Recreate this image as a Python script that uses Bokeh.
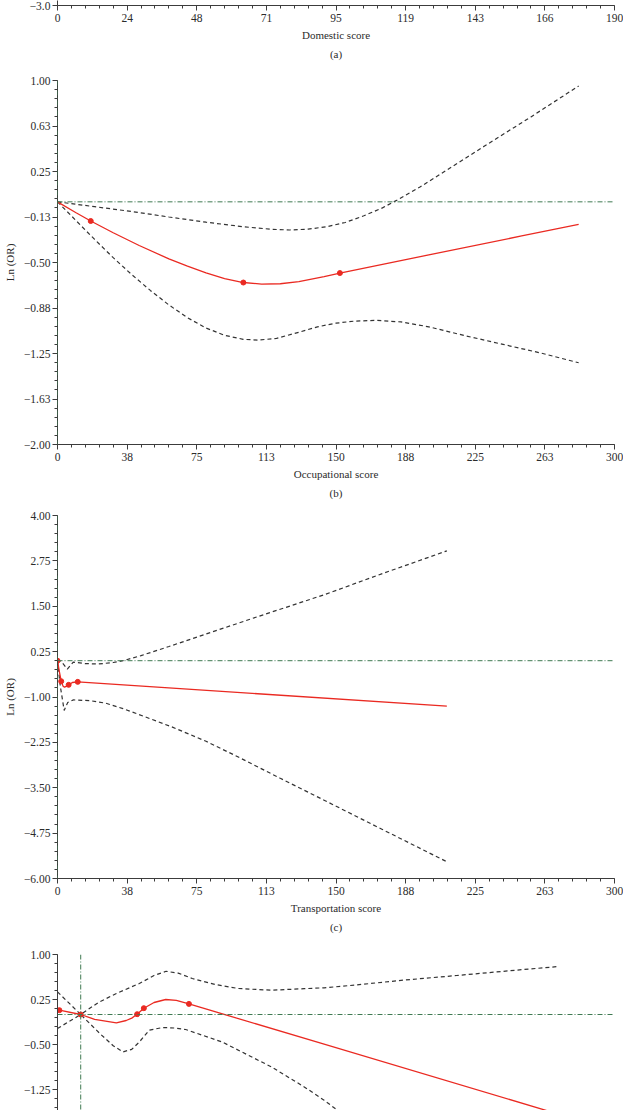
import math
from bokeh.plotting import figure
from bokeh.layouts import column
from bokeh.models import FixedTicker, Span, Range1d, Title
from bokeh.embed import file_html
from bokeh.resources import INLINE

# ---------------- data ----------------
# (a) Domestic score (only the x axis is visible)
dom_xticks = [0, 23.75, 47.5, 71.25, 95, 118.75, 142.5, 166.25, 190]
dom_xlabels = ["0", "24", "48", "71", "95", "119", "143", "166", "190"]
dom_yticks = [-3.0]
dom_ylabels = ["\u22123.0"]

# shared x ticks for (b), (c), (d)
sc_xticks = [0, 37.5, 75, 112.5, 150, 187.5, 225, 262.5, 300]
sc_xlabels = ["0", "38", "75", "113", "150", "188", "225", "263", "300"]

# (b) Occupational score
occ_yticks = [1.0, 0.625, 0.25, -0.125, -0.5, -0.875, -1.25, -1.625, -2.0]
occ_ylabels = ["1.00", "0.63", "0.25", "\u22120.13", "\u22120.50", "\u22120.88", "\u22121.25", "\u22121.63", "\u22122.00"]
occ_x = [0, 10, 17.9, 30, 44, 60, 70, 80, 90, 100.1, 110, 120, 130, 143.6, 152.1, 200, 250, 280.7]
occ_y = [0, -0.09, -0.158, -0.255, -0.36, -0.47, -0.53, -0.585, -0.632, -0.665, -0.678, -0.675, -0.657, -0.617, -0.587, -0.437, -0.281, -0.185]
occ_up_x = [0, 20, 40, 60, 80, 100, 115, 125, 135, 145, 155, 165, 175, 183, 195, 210, 230, 255, 280.7]
occ_up_y = [0, -0.04, -0.08, -0.125, -0.168, -0.205, -0.226, -0.232, -0.225, -0.205, -0.17, -0.115, -0.05, 0.015, 0.12, 0.265, 0.46, 0.70, 0.955]
occ_lo_x = [0, 10, 20, 30, 40, 50, 60, 70, 80, 90, 100, 108, 118, 130, 140, 150, 160, 172, 185, 200, 220, 240, 260, 280.7]
occ_lo_y = [0, -0.155, -0.31, -0.46, -0.60, -0.73, -0.85, -0.955, -1.04, -1.10, -1.133, -1.14, -1.125, -1.075, -1.03, -1.0, -0.983, -0.977, -0.99, -1.03, -1.105, -1.175, -1.245, -1.326]
occ_knot_x = [17.9, 100.1, 152.1]
occ_knot_y = [-0.158, -0.665, -0.587]

# (c) Transportation score
tr_yticks = [4.0, 2.75, 1.5, 0.25, -1.0, -2.25, -3.5, -4.75, -6.0]
tr_ylabels = ["4.00", "2.75", "1.50", "0.25", "\u22121.00", "\u22122.25", "\u22123.50", "\u22124.75", "\u22126.00"]
tr_x = [0, 1.0, 2.0, 3.0, 3.8, 5.0, 6.0, 8.0, 10.9, 209.7]
tr_y = [0.0, -0.3, -0.566, -0.70, -0.73, -0.70, -0.665, -0.60, -0.583, -1.253]
tr_up_x = [0, 2.5, 5.3, 8.5, 15, 22, 30, 35.3, 45, 60, 80, 110, 143.6, 175, 209.7]
tr_up_y = [0.05, -0.05, -0.23, -0.04, -0.08, -0.09, -0.05, 0.0, 0.14, 0.39, 0.736, 1.25, 1.816, 2.4, 3.025]
tr_lo_x = [0, 1.5, 3.6, 5.5, 8.6, 17.5, 26, 35.3, 50, 61.9, 80, 97.4, 120, 143.6, 175, 209.7]
tr_lo_y = [0, -0.7, -1.37, -1.15, -1.08, -1.10, -1.17, -1.32, -1.6, -1.83, -2.22, -2.654, -3.24, -3.843, -4.65, -5.538]
tr_knot_x = [0, 2.0, 6.0, 10.9]
tr_knot_y = [0, -0.566, -0.665, -0.583]

# (d) fourth panel (only its top part is visible)
lt_yticks = [1.0, 0.25, -0.5, -1.25, -2.0]
lt_ylabels = ["1.00", "0.25", "\u22120.50", "\u22121.25", "\u22122.00"]
lt_ref_x = 12.5
lt_x = [1.0, 12.5, 20, 31.7, 37, 40, 42.9, 46.5, 52, 58.3, 64, 70.8, 143.6, 280]
lt_y = [0.072, 0.0, -0.08, -0.14, -0.10, -0.06, 0.005, 0.105, 0.2, 0.25, 0.235, 0.177, -0.495, -1.754]
lt_up_x = [0, 12.5, 22, 31.7, 44.1, 52, 58.5, 65, 72.6, 85, 97.5, 115.2, 132.9, 143.6, 160, 186.2, 215, 246.6, 269.9]
lt_up_y = [0.377, 0.0, 0.2, 0.35, 0.517, 0.65, 0.72, 0.69, 0.6, 0.5, 0.433, 0.405, 0.43, 0.445, 0.49, 0.572, 0.65, 0.738, 0.80]
lt_lo_x = [0, 12.5, 22.8, 30, 35.3, 40, 44.1, 49.4, 56.6, 63, 69, 88.6, 115.2, 132.9, 143.6, 150.7, 180, 220, 269.9]
lt_lo_y = [-0.233, 0.0, -0.317, -0.52, -0.623, -0.58, -0.457, -0.262, -0.217, -0.225, -0.25, -0.457, -0.873, -1.207, -1.428, -1.595, -2.25, -3.1, -4.2]
lt_knot_x = [1.0, 12.5, 42.9, 46.5, 70.8]
lt_knot_y = [0.072, 0.0, 0.005, 0.105, 0.177]

# ---------------- styling ----------------
FONT = "Liberation Serif"
TXT = "#2b2b2b"
AX = "#3c3c3c"
RED = "#ea2a22"
DASHC = "#333333"
GREEN = "#3f7a52"
W = 623
LEFT = 51
FRAME_W = 563
RIGHT = W - LEFT - FRAME_W


def minor_list(ticks, n=5):
    out = []
    s = sorted(ticks)
    for a, b in zip(s[:-1], s[1:]):
        for k in range(n + 1):
            out.append(a + (b - a) * k / n)
    return out


def make_fig(height, top, bottom, xr, yr, xticks, xlabels, yticks, ylabels,
             xtitle=None, caption=None, ytitle=None, xaxis=True, yminor=True):
    p = figure(width=W, height=height, x_range=Range1d(*xr), y_range=Range1d(*yr),
               min_border_left=LEFT, min_border_right=RIGHT, min_border_top=top,
               min_border_bottom=bottom, output_backend="svg", toolbar_location=None,
               x_axis_location="below" if xaxis else None)
    p.outline_line_color = None
    p.xgrid.visible = False
    p.ygrid.visible = False
    p.background_fill_color = "white"
    p.border_fill_color = "white"
    axes = list(p.yaxis) + (list(p.xaxis) if xaxis else [])
    for ax in axes:
        ax.axis_line_color = AX
        ax.axis_line_width = 1
        ax.major_tick_line_color = AX
        ax.minor_tick_line_color = AX
        ax.major_tick_in = 0
        ax.major_tick_out = 5
        ax.minor_tick_in = 0
        ax.minor_tick_out = 3
        ax.major_label_text_font = FONT
        ax.major_label_text_font_size = "11.5px"
        ax.major_label_text_color = TXT
        ax.major_label_standoff = 3
        ax.axis_label_text_font = FONT
        ax.axis_label_text_font_size = "11px"
        ax.axis_label_text_font_style = "normal"
        ax.axis_label_text_color = TXT
    if xaxis:
        p.xaxis.ticker = FixedTicker(ticks=xticks, minor_ticks=minor_list(xticks))
        p.xaxis.major_label_overrides = {t: l for t, l in zip(xticks, xlabels)}
        if xtitle:
            p.xaxis.axis_label = xtitle
            p.xaxis.axis_label_standoff = 4
    p.yaxis.ticker = FixedTicker(ticks=yticks, minor_ticks=minor_list(yticks) if yminor else [])
    p.yaxis.major_label_overrides = {t: l for t, l in zip(yticks, ylabels)}
    p.yaxis.major_label_standoff = 2
    if ytitle:
        p.yaxis.axis_label = ytitle
        p.yaxis.axis_label_standoff = 5
    if caption:
        p.add_layout(Title(text=caption, align="center", text_font=FONT, text_font_size="11px",
                           text_font_style="normal", text_color=TXT, standoff=5), "below")
    return p


def add_curves(p, fx, fy, ux, uy, lx, ly, kx, ky):
    p.line(ux, uy, line_color=DASHC, line_width=1.2, line_dash="4 3")
    p.line(lx, ly, line_color=DASHC, line_width=1.2, line_dash="4 3")
    p.line(fx, fy, line_color=RED, line_width=1.3)
    p.scatter(kx, ky, marker="circle", size=5, color=RED)


def ref_lines(p, xloc):
    p.add_layout(Span(location=0, dimension="width", line_color=GREEN, line_width=1,
                      line_dash="5 2 1 2"))
    p.add_layout(Span(location=xloc, dimension="height", line_color=GREEN, line_width=1,
                      line_dash="5 2 1 2"))


# (a)
pa = make_fig(70, 0, 65, (0, 190), (-3.0, -2.9), dom_xticks, dom_xlabels, dom_yticks, dom_ylabels,
              xtitle="Domestic score", caption="(a)", yminor=False)

# (b)
pb = make_fig(435, 10, 61, (0, 300), (-2.0, 1.0), sc_xticks, sc_xlabels, occ_yticks, occ_ylabels,
              xtitle="Occupational score", caption="(b)", ytitle="Ln (OR)")
ref_lines(pb, 0)
add_curves(pb, occ_x, occ_y, occ_up_x, occ_up_y, occ_lo_x, occ_lo_y, occ_knot_x, occ_knot_y)

# (c)
pc = make_fig(439, 10, 66, (0, 300), (-6.0, 4.0), sc_xticks, sc_xlabels, tr_yticks, tr_ylabels,
              xtitle="Transportation score", caption="(c)", ytitle="Ln (OR)")
ref_lines(pc, 0)
add_curves(pc, tr_x, tr_y, tr_up_x, tr_up_y, tr_lo_x, tr_lo_y, tr_knot_x, tr_knot_y)

# (d)
FH_D = 156
pd_ = make_fig(166, 10, 0, (0, 300), (1.0 - FH_D / 60.0, 1.0), sc_xticks, sc_xlabels, lt_yticks, lt_ylabels,
               xaxis=False)
ref_lines(pd_, lt_ref_x)
add_curves(pd_, lt_x, lt_y, lt_up_x, lt_up_y, lt_lo_x, lt_lo_y, lt_knot_x, lt_knot_y)

layout = column(pa, pb, pc, pd_)
open("out.html", "w").write(file_html(layout, INLINE))
